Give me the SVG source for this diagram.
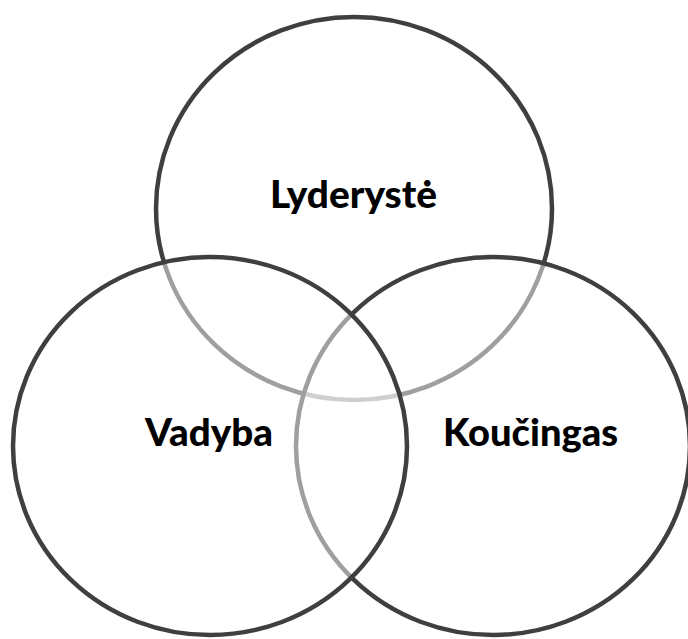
<svg xmlns="http://www.w3.org/2000/svg" width="688" height="639" viewBox="0 0 688 639">
<style>
.c{stroke:#3f3f3f;stroke-width:4.5;fill:#ffffff;fill-opacity:0.5}
.c0{stroke:#3f3f3f;stroke-width:4.5;fill:none}
.t{font-family:Lato,"Liberation Sans",sans-serif;font-weight:900;font-size:37px;fill:#000}
</style>
<rect width="688" height="639" fill="#fff"/>
<g id="lyderyste">
<ellipse class="c0" cx="354" cy="208.5" rx="198" ry="191.5"/>
</g>
<g id="koucingas">
<ellipse class="c" cx="493" cy="446" rx="197" ry="189"/>
</g>
<g id="vadyba">
<ellipse class="c" cx="210" cy="446" rx="197" ry="189"/>
</g>
<g id="labels">
<text class="t" x="270" y="208" textLength="167" lengthAdjust="spacingAndGlyphs">Lyderystė</text>
<text class="t" x="145" y="446" textLength="128" lengthAdjust="spacingAndGlyphs">Vadyba</text>
<text class="t" x="443" y="446" textLength="175" lengthAdjust="spacingAndGlyphs">Koučingas</text>
</g>
</svg>
